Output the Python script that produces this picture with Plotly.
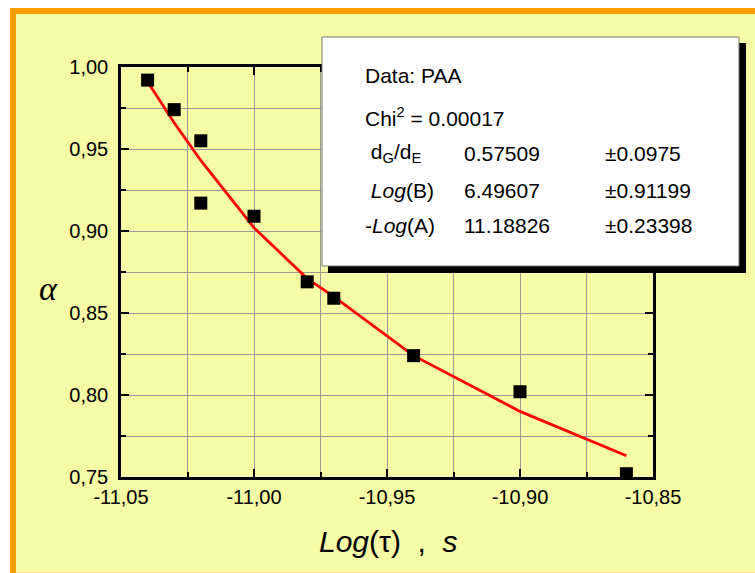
import plotly.graph_objects as go

# ---- data ----
log_tau = [-11.04, -11.03, -11.02, -11.02, -11.00, -10.98, -10.97, -10.94, -10.90, -10.86]
alpha = [0.992, 0.974, 0.955, 0.917, 0.909, 0.869, 0.859, 0.824, 0.802, 0.752]

fit_x = [-11.04, -11.03, -11.02, -11.00, -10.98, -10.97, -10.94, -10.90, -10.86]
fit_y = [0.991, 0.966, 0.943, 0.902, 0.871, 0.860, 0.824, 0.790, 0.763]

x_tickvals = [-11.05, -11.00, -10.95, -10.90, -10.85]
x_ticktext = ["-11,05", "-11,00", "-10,95", "-10,90", "-10,85"]
x_minor = [-11.025, -10.975, -10.925, -10.875]
y_tickvals = [0.75, 0.80, 0.85, 0.90, 0.95, 1.00]
y_ticktext = ["0,75", "0,80", "0,85", "0,90", "0,95", "1,00"]
y_minor = [0.775, 0.825, 0.875, 0.925, 0.975]

box_rows = [
    ["Data: PAA", "", ""],
    ["Chi<sup>2</sup> = 0.00017", "", ""],
    [" d<sub>G</sub>/d<sub>E</sub>", "0.57509", "±0.0975"],
    [" <i>Log</i>(B)", "6.49607", "±0.91199"],
    ["-<i>Log</i>(A)", "11.18826", "±0.23398"],
]

# ---- layout geometry (pixels) ----
W, H = 755, 573
L, R, T, B = 121, 653, 67, 477


def px(x):
    return (x - L) / (R - L)


def py(y):
    return (B - y) / (B - T)


fig = go.Figure()
fig.add_trace(go.Scatter(x=fit_x, y=fit_y, mode="lines",
                         line=dict(color="#ff0000", width=2.8), showlegend=False))
fig.add_trace(go.Scatter(x=log_tau, y=alpha, mode="markers",
                         marker=dict(symbol="square", size=13, color="black"),
                         showlegend=False))

tickfont = dict(family="Liberation Sans", size=20, color="black")
axis_common = dict(
    showline=True, linewidth=2.5, linecolor="black", mirror="ticks",
    ticks="inside", ticklen=8, tickwidth=2, tickcolor="black",
    showgrid=True, gridcolor="#9a9a9a", gridwidth=1, zeroline=False,
    tickmode="array", tickfont=tickfont,
)
fig.update_xaxes(range=[-11.05, -10.85], tickvals=x_tickvals, ticktext=x_ticktext,
                 minor=dict(tickmode="array", tickvals=x_minor, ticks="inside", ticklen=5,
                            tickwidth=2, tickcolor="black", showgrid=True,
                            gridcolor="#9a9a9a", gridwidth=1),
                 **axis_common)
fig.update_yaxes(range=[0.75, 1.00], tickvals=y_tickvals, ticktext=y_ticktext,
                 ticklabelstandoff=6,
                 minor=dict(tickmode="array", tickvals=y_minor, ticks="inside", ticklen=5,
                            tickwidth=2, tickcolor="black", showgrid=True,
                            gridcolor="#9a9a9a", gridwidth=1),
                 **axis_common)

shapes = [
    # orange frame and yellow fill
    dict(type="rect", xref="paper", yref="paper", x0=px(10), x1=px(770), y0=py(8), y1=py(590),
         fillcolor="#ff9c00", line=dict(width=0), layer="below"),
    dict(type="rect", xref="paper", yref="paper", x0=px(16), x1=px(770), y0=py(14), y1=py(572),
         fillcolor="#f6fba6", line=dict(width=0), layer="below"),
    dict(type="rect", xref="paper", yref="paper", x0=px(16), x1=px(770), y0=py(572), y1=py(590),
         fillcolor="#fce58a", line=dict(width=0), layer="below"),
    # text box shadow and box
    dict(type="rect", xref="paper", yref="paper", x0=px(328), x1=px(746), y0=py(43), y1=py(273),
         fillcolor="black", line=dict(width=0), layer="above"),
    dict(type="rect", xref="paper", yref="paper", x0=px(322), x1=px(739), y0=py(37), y1=py(266),
         fillcolor="white", line=dict(width=1, color="#777777"), layer="above"),
]

annotations = []
row_y = [75, 117, 153, 190, 225]
col_x = [363, 462, 603]
boxfont = dict(family="Liberation Sans", size=21, color="black")
for yy, row in zip(row_y, box_rows):
    for xx, txt in zip(col_x, row):
        if txt:
            annotations.append(dict(text=txt, xref="paper", yref="paper", x=px(xx), y=py(yy),
                                    xanchor="left", yanchor="middle", showarrow=False,
                                    font=boxfont))

annotations.append(dict(text="<i>Log</i>(τ)\u00a0 ,\u00a0 <i>s</i>", xref="paper", yref="paper",
                        x=px(388), y=py(541), xanchor="center", yanchor="middle",
                        showarrow=False,
                        font=dict(family="Liberation Sans", size=30, color="black")))
annotations.append(dict(text="<i>α</i>", xref="paper", yref="paper",
                        x=px(48), y=py(288), xanchor="center", yanchor="middle",
                        showarrow=False,
                        font=dict(family="Liberation Serif", size=34, color="black")))

fig.update_layout(
    width=W, height=H,
    margin=dict(l=L, r=W - R, t=T, b=H - B),
    paper_bgcolor="white", plot_bgcolor="rgba(0,0,0,0)",
    shapes=shapes, annotations=annotations,
    showlegend=False,
)

fig.write_html("out.html", config={"displayModeBar": False},
               post_script="document.body.style.margin='0px';document.body.style.overflow='hidden';")
